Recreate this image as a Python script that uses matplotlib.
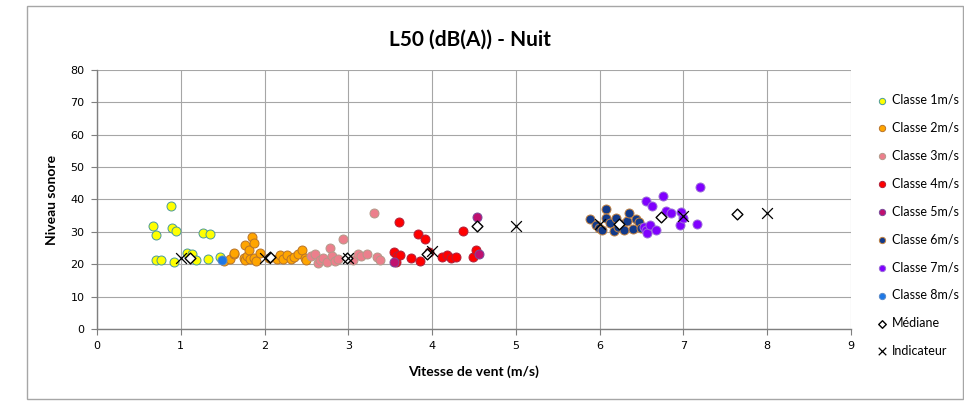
import matplotlib
matplotlib.use("Agg")
import matplotlib.pyplot as plt
from matplotlib.patches import Rectangle

# wind speed (m/s) / sound level (dB(A)) per wind class
x1 = [0.67, 0.70, 0.71, 0.77, 0.88, 0.90, 0.92, 0.94, 1.07, 1.14, 1.18, 1.27, 1.32, 1.35, 1.47]
y1 = [31.9, 29.1, 21.3, 21.3, 37.9, 31.3, 20.7, 30.4, 23.5, 23.1, 21.3, 29.8, 21.5, 29.3, 22.1]

x2 = [1.52, 1.59, 1.63, 1.64, 1.75, 1.77, 1.77, 1.79, 1.81, 1.83, 1.85, 1.87, 1.88,
      1.90, 1.94, 2.05, 2.15, 2.18, 2.22, 2.27, 2.31, 2.35, 2.40, 2.45, 2.48, 2.50]
y2 = [21.0, 21.5, 23.1, 23.5, 21.8, 25.9, 21.3, 22.5, 24.5, 21.5, 28.5, 26.5, 22.0,
      21.0, 23.5, 22.0, 21.5, 22.8, 21.5, 22.8, 21.5, 22.2, 23.2, 24.4, 22.0, 21.2]

x3 = [2.56, 2.60, 2.64, 2.66, 2.70, 2.74, 2.78, 2.80, 2.84, 2.88, 2.94, 3.05, 3.12,
      3.15, 3.22, 3.31, 3.34, 3.38]
y3 = [22.5, 23.3, 20.5, 21.3, 22.0, 20.8, 24.9, 22.5, 21.0, 21.6, 27.7, 21.3, 23.1,
      22.6, 23.1, 35.7, 22.3, 21.3]

x4 = [3.55, 3.57, 3.58, 3.60, 3.62, 3.75, 3.83, 3.86, 3.91, 3.96, 4.12, 4.18, 4.22,
      4.28, 4.37, 4.49, 4.52]
y4 = [23.9, 20.7, 22.5, 32.9, 23.0, 21.8, 29.4, 20.9, 27.7, 23.9, 22.1, 23.0, 22.0,
      22.3, 30.4, 22.1, 24.4]

x5 = [3.54, 4.53, 4.56]
y5 = [20.8, 34.6, 23.3]

x6 = [5.88, 5.96, 5.99, 6.03, 6.07, 6.07, 6.12, 6.17, 6.19, 6.22, 6.27, 6.29, 6.33,
      6.35, 6.40, 6.43, 6.47, 6.49]
y6 = [34.1, 32.0, 31.2, 30.5, 37.2, 34.3, 32.8, 30.2, 34.3, 31.5, 32.5, 30.6, 33.5,
      35.8, 31.0, 34.0, 33.2, 31.2]

x7 = [6.53, 6.55, 6.55, 6.57, 6.60, 6.63, 6.67, 6.75, 6.79, 6.85, 6.96, 6.97, 6.99,
      7.16, 7.20]
y7 = [31.5, 39.5, 30.6, 29.8, 32.2, 37.9, 30.5, 41.0, 36.3, 35.8, 32.2, 36.1, 34.3,
      32.5, 44.0]

x8 = [1.49]
y8 = [21.2]

med_x = [1.11, 2.07, 2.98, 3.94, 4.54, 6.23, 6.73, 7.64]
med_y = [21.8, 22.1, 21.8, 23.1, 31.9, 32.5, 34.6, 35.6]

ind_x = [1.0, 2.0, 3.0, 4.0, 5.0, 6.0, 7.0, 8.0]
ind_y = [21.8, 22.0, 22.0, 24.0, 31.9, 32.5, 35.0, 35.8]

classes = [
    ("Classe 1m/s", x1, y1, "#ffff00", "#4a9a9a"),
    ("Classe 2m/s", x2, y2, "#ffa500", "#b8742a"),
    ("Classe 3m/s", x3, y3, "#ec7f8c", "#b39a8a"),
    ("Classe 4m/s", x4, y4, "#ff0000", "#b0203a"),
    ("Classe 5m/s", x5, y5, "#c0106f", "#7a4a9a"),
    ("Classe 6m/s", x6, y6, "#123a8a", "#c08040"),
    ("Classe 7m/s", x7, y7, "#8000ff", "#9a6ad8"),
    ("Classe 8m/s", x8, y8, "#1e78e6", "#5a8ac8"),
]

fig = plt.figure(figsize=(9.64, 4.01), dpi=100)
ax = fig.add_axes([0.1006, 0.1796, 0.7822, 0.6458])

for label, xs, ys, fc, ec in classes:
    ax.scatter(xs, ys, s=42, c=fc, edgecolors=ec, linewidths=0.7, label=label, zorder=3)

ax.scatter(med_x, med_y, s=30, marker="D", facecolors="white", edgecolors="black",
           linewidths=1.0, label="Médiane", zorder=4)
ax.scatter(ind_x, ind_y, s=60, marker="x", c="black", linewidths=0.9,
           label="Indicateur", zorder=4)

ax.set_xlim(0, 9)
ax.set_ylim(0, 80)
ax.set_xticks(range(0, 10))
ax.set_yticks(range(0, 81, 10))
ax.grid(True, color="#a6a6a6", linewidth=0.8, zorder=0)
ax.set_axisbelow(True)
for side in ["top", "right"]:
    ax.spines[side].set_visible(False)
for side in ["left", "bottom"]:
    ax.spines[side].set_color("#7f7f7f")
    ax.spines[side].set_linewidth(1.0)
ax.tick_params(direction="out", length=4, color="#7f7f7f", labelsize=8, pad=5)

ax.set_xlabel("Vitesse de vent (m/s)", fontsize=10, fontweight="bold", family="Lato", labelpad=10)
ax.set_ylabel("Niveau sonore", fontsize=10, fontweight="bold", family="Lato", labelpad=9)

fig.text(0.4876, 0.90, "L50 (dB(A)) - Nuit", ha="center", va="center",
         fontsize=15, fontweight="bold", family="Lato")

fig.legend(loc="upper left", bbox_to_anchor=(0.911, 0.766), frameon=False,
           prop={"family": "Lato", "size": 9}, labelspacing=1.27, markerscale=0.7,
           handlelength=0.6, handletextpad=0.5, borderaxespad=0, borderpad=0)

fig.patches.append(Rectangle((27 / 964, 2 / 401), 936 / 964, 393 / 401,
                             transform=fig.transFigure, fill=False,
                             edgecolor="#a6a6a6", linewidth=1.0))

fig.savefig("out.png", dpi=100)
